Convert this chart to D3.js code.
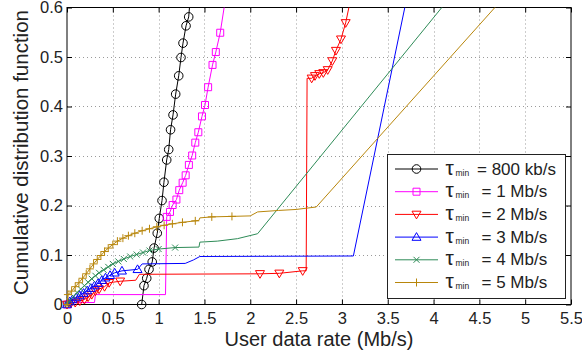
<!DOCTYPE html>
<html>
<head>
<meta charset="utf-8">
<script src="https://cdn.jsdelivr.net/npm/d3@7"></script>
<style>
  body { margin: 0; background: #fff; }
  svg { display: block; }
  text { font-family: "Liberation Sans", Arial, Helvetica, sans-serif; fill: #222; }
</style>
</head>
<body>
<svg width="582" height="354"></svg>
<script>
// each point: [rate Mb/s, cdf, marker?]
var black800 = [[0.815,0,1],[0.84,0.038,1],[0.87,0.053,1],[0.895,0.071,1],[0.93,0.086,1],[0.95,0.114,1],
  [0.985,0.144,1],[1.007,0.174,1],[1.037,0.21,1],[1.058,0.247,1],[1.088,0.292,1],[1.11,0.313,1],
  [1.13,0.353,1],[1.157,0.383,1],[1.186,0.425,1],[1.219,0.462,1],[1.244,0.499,1],[1.266,0.528,1],
  [1.299,0.563,1],[1.328,0.581,1],[1.35,0.63,0]];
var magenta1 = [[0,0,1],[0.02,0.004,0],[0.3,0.004,0],[0.31,0.02,0],[1.075,0.02,0],[1.088,0.177,1],
  [1.124,0.187,1],[1.153,0.201,1],[1.194,0.212,1],[1.225,0.231,1],[1.262,0.246,1],[1.295,0.261,1],
  [1.33,0.282,1],[1.366,0.301,1],[1.40,0.327,1],[1.433,0.348,1],[1.473,0.38,1],[1.506,0.403,1],
  [1.54,0.439,1],[1.588,0.484,1],[1.624,0.51,1],[1.672,0.549,1],[1.74,0.63,0]];
var red2 = [[0,0,1],[0.04,0.002,1],[0.09,0.004,1],[0.14,0.007,1],[0.19,0.01,1],[0.23,0.015,1],
  [0.27,0.02,1],[0.31,0.027,1],[0.35,0.031,1],[0.41,0.036,1],[0.46,0.044,1],[0.58,0.047,1],
  [0.75,0.049,0],[0.79,0.061,0],[2.106,0.062,1],[2.317,0.063,1],[2.572,0.068,1],[2.61,0.068,0],
  [2.62,0.457,0],[2.67,0.457,1],[2.706,0.462,1],[2.753,0.466,1],[2.797,0.468,1],[2.845,0.474,1],
  [2.895,0.492,1],[2.935,0.513,1],[2.99,0.536,1],[3.041,0.569,1],[3.11,0.63,0]];
var blue3 = [[0,0,1],[0.03,0.006,1],[0.06,0.01,1],[0.1,0.014,1],[0.14,0.018,1],[0.18,0.023,1],
  [0.22,0.028,1],[0.26,0.033,1],[0.3,0.038,1],[0.34,0.043,1],[0.38,0.049,1],[0.42,0.054,1],
  [0.47,0.059,1],[0.52,0.064,1],[0.6,0.068,1],[0.77,0.071,1],[0.82,0.082,0],[1.29,0.083,0],
  [1.38,0.09,0],[1.45,0.097,0],[3.125,0.098,0],[3.72,0.63,0]];
var green4 = [[0,0,1],[0.03,0.008,1],[0.07,0.016,1],[0.11,0.024,1],[0.15,0.031,1],[0.19,0.038,1],
  [0.23,0.045,1],[0.27,0.052,1],[0.31,0.058,1],[0.35,0.064,1],[0.4,0.07,1],[0.45,0.076,1],
  [0.5,0.082,1],[0.56,0.087,1],[0.62,0.092,1],[0.69,0.097,1],[0.76,0.101,1],[0.83,0.105,1],
  [0.9,0.109,1],[1.0,0.112,1],[1.18,0.115,1],[1.44,0.116,0],[1.45,0.126,0],[1.64,0.128,0],
  [1.86,0.133,0],[2.08,0.143,0],[4.2,0.625,0]];
var gold5 = [[0,0,1],[0.01,0.02,1],[0.05,0.027,1],[0.09,0.036,1],[0.13,0.044,1],[0.17,0.053,1],
  [0.21,0.062,1],[0.25,0.072,1],[0.29,0.082,1],[0.33,0.091,1],[0.37,0.099,1],[0.41,0.107,1],
  [0.45,0.114,1],[0.5,0.121,1],[0.55,0.128,1],[0.61,0.134,1],[0.67,0.139,1],[0.74,0.144,1],
  [0.82,0.149,1],[0.9,0.153,1],[0.98,0.157,1],[1.06,0.16,1],[1.15,0.163,1],[1.26,0.166,1],
  [1.4,0.169,1],[1.44,0.17,0],[1.45,0.175,0],[1.58,0.177,1],[1.8,0.178,1],[2.0,0.179,0],
  [2.08,0.187,0],[2.31,0.19,0],[2.5,0.192,0],[2.72,0.197,0],[4.8,0.627,0]];

var legendLabels = ["800 kb/s", "1 Mb/s", "2 Mb/s", "3 Mb/s", "4 Mb/s", "5 Mb/s"];
var xTicks = [0, 0.5, 1, 1.5, 2, 2.5, 3, 3.5, 4, 4.5, 5, 5.5];
var yTicks = [0, 0.1, 0.2, 0.3, 0.4, 0.5, 0.6];

var series = [
  {data: black800, color: "#000000", mark: "circle"},
  {data: magenta1, color: "#ff00ff", mark: "square"},
  {data: red2, color: "#ff0000", mark: "tridown"},
  {data: blue3, color: "#0000ff", mark: "triup"},
  {data: green4, color: "#2e8b57", mark: "x"},
  {data: gold5, color: "#b8860b", mark: "plus"}
];

var markPaths = {
  square: "M-3.5,-3.5h7v7h-7z",
  tridown: "M-4.5,-3.2L4.5,-3.2L0,4.5Z",
  triup: "M0,-4.5L4.5,3.2L-4.5,3.2Z",
  x: "M-3,-3L3,3M-3,3L3,-3",
  plus: "M-4,0H4M0,-4V4"
};

var svg = d3.select("svg");
var plotL = 67, plotR = 571, plotT = 7.5, plotB = 304.5;

var x = d3.scaleLinear().domain([0, 5.5]).range([plotL, plotR]);
var y = d3.scaleLinear().domain([0, 0.6]).range([plotB, plotT]);

svg.append("defs").append("clipPath").attr("id", "plotclip")
  .append("rect").attr("x", plotL).attr("y", plotT)
  .attr("width", plotR - plotL).attr("height", plotB - plotT);

// dotted grid
var grid = svg.append("g").attr("stroke", "#9a9a9a").attr("stroke-width", 1)
  .attr("stroke-dasharray", "1,3");
grid.selectAll(".gx").data(xTicks.slice(1, -1)).enter().append("line")
  .attr("x1", d => Math.round(x(d)) + 0.5).attr("x2", d => Math.round(x(d)) + 0.5)
  .attr("y1", plotT).attr("y2", plotB);
grid.selectAll(".gy").data(yTicks.slice(1, -1)).enter().append("line")
  .attr("y1", d => Math.round(y(d)) + 0.5).attr("y2", d => Math.round(y(d)) + 0.5)
  .attr("x1", plotL).attr("x2", plotR);

// axes, ticks pointing inwards
function styleAxis(g) {
  g.select(".domain").remove();
  g.selectAll(".tick line").attr("stroke", "#000");
  g.selectAll(".tick text").attr("fill", "#222")
    .attr("font-family", "Liberation Sans, Arial, sans-serif").attr("font-size", "16.5px");
}
svg.append("g").attr("transform", "translate(0," + plotB + ")")
  .call(d3.axisBottom(x).tickValues(xTicks).tickFormat(d => String(d)).tickSize(-5).tickPadding(8))
  .call(styleAxis);
svg.append("g").attr("transform", "translate(0," + plotT + ")")
  .call(d3.axisTop(x).tickValues(xTicks).tickFormat("").tickSize(-5))
  .call(styleAxis);
svg.append("g").attr("transform", "translate(" + plotL + ",0)")
  .call(d3.axisLeft(y).tickValues(yTicks).tickFormat(d => String(d)).tickSize(-5).tickPadding(4))
  .call(styleAxis);
svg.append("g").attr("transform", "translate(" + plotR + ",0)")
  .call(d3.axisRight(y).tickValues(yTicks).tickFormat("").tickSize(-5))
  .call(styleAxis);

svg.append("rect").attr("x", plotL).attr("y", plotT)
  .attr("width", plotR - plotL).attr("height", plotB - plotT)
  .attr("fill", "none").attr("stroke", "#000").attr("stroke-width", 1);

// curves
var line = d3.line().x(d => x(d[0])).y(d => y(d[1]));

function drawMark(sel, kind, color) {
  if (kind === "circle") {
    sel.append("circle").attr("r", 4.3).attr("fill", "none").attr("stroke", color);
  } else {
    sel.append("path").attr("d", markPaths[kind]).attr("fill", "none").attr("stroke", color);
  }
}

series.forEach(function (s) {
  svg.append("path").datum(s.data)
    .attr("clip-path", "url(#plotclip)")
    .attr("fill", "none").attr("stroke", s.color).attr("stroke-width", 1)
    .attr("d", line);
  svg.append("g").selectAll("g").data(s.data.filter(d => d[2] === 1)).enter()
    .append("g")
    .attr("transform", d => "translate(" + x(d[0]) + "," + y(d[1]) + ")")
    .each(function () { drawMark(d3.select(this), s.mark, s.color); });
});

// legend
var lg = svg.append("g");
lg.append("rect").attr("x", 387.5).attr("y", 154.5).attr("width", 178).attr("height", 144)
  .attr("fill", "#fff").attr("stroke", "#222").attr("stroke-width", 1);
series.forEach(function (s, i) {
  var cy = 169 + i * 22.7;
  lg.append("line").attr("x1", 395).attr("x2", 438).attr("y1", cy).attr("y2", cy)
    .attr("stroke", s.color).attr("stroke-width", 1);
  var m = lg.append("g").attr("transform", "translate(416.5," + cy + ")");
  drawMark(m, s.mark, s.color);
  var t = lg.append("text").attr("y", cy + 5.5).attr("font-size", "17px");
  t.append("tspan").attr("x", 445.5).attr("font-size", "21px").text("τ");
  t.append("tspan").attr("x", 455.5).attr("dy", 1).attr("font-size", "8.5px").text("min");
  t.append("tspan").attr("x", i === 0 ? 477 : 481.5).attr("dy", -1).text("= " + legendLabels[i]);
});

// axis titles
svg.append("text").attr("x", (plotL + plotR) / 2).attr("y", 346)
  .attr("text-anchor", "middle").attr("font-size", "20px").text("User data rate (Mb/s)");
svg.append("text").attr("transform", "translate(28,152.5) rotate(-90)")
  .attr("text-anchor", "middle").attr("font-size", "20.5px").text("Cumulative distribution function");
</script>
</body>
</html>
